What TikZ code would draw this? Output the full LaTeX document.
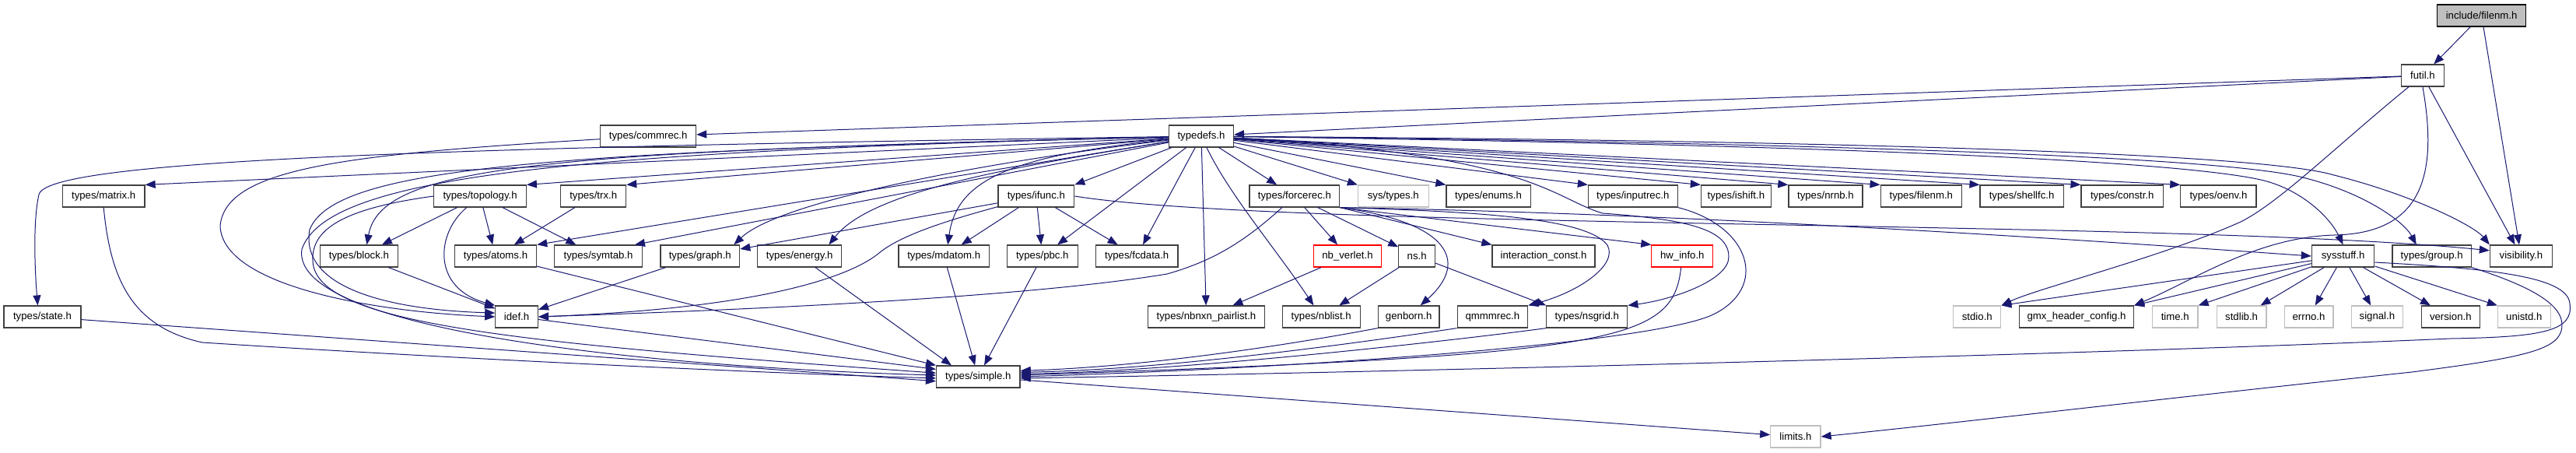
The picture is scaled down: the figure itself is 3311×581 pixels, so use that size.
\documentclass[tikz,border=0pt]{standalone}
\usepackage{fontspec}
\setmainfont{Liberation Sans}
\usetikzlibrary{arrows.meta}
\definecolor{edgec}{HTML}{191970}
\definecolor{boxc}{HTML}{404040}
\definecolor{greyc}{HTML}{BFBFBF}
\newcommand\nfont{\fontsize{13.2}{15}\selectfont}
\tikzset{
  nb/.style={draw=boxc, line width=1.2pt, minimum height=28pt, inner sep=0pt, font=\nfont, fill=white},
  gb/.style={nb, draw=greyc},
  rb/.style={nb, draw=red},
  rootb/.style={nb, draw=black, fill=greyc},
  e/.style={draw=edgec, line width=1pt, -{Triangle[length=13pt,width=10pt]}},
}
\begin{document}
\begin{tikzpicture}[x=1pt,y=-1pt]
\useasboundingbox (0,0) rectangle (3311,581);
% row 0-2
\node[rootb, minimum width=113.5pt] (root) at (3189.6,20) {include/filenm.h};
\node[nb, minimum width=55pt] (futil) at (3113.9,97) {futil.h};
\node[nb, minimum width=122.8pt] (commrec) at (833.2,175) {types/commrec.h};
\node[nb, minimum width=83pt] (td) at (1544,175) {typedefs.h};
% row 3
\node[nb, minimum width=105.7pt] (matrix) at (133.2,252) {types/matrix.h};
\node[nb, minimum width=118.5pt] (topo) at (617.1,252) {types/topology.h};
\node[nb, minimum width=83.9pt] (trx) at (762.7,252) {types/trx.h};
\node[nb, minimum width=97.8pt] (ifunc) at (1331.8,252) {types/ifunc.h};
\node[nb, minimum width=115.8pt] (frec) at (1663.9,252) {types/forcerec.h};
\node[gb, minimum width=90.7pt] (systypes) at (1790.8,252) {sys/types.h};
\node[nb, minimum width=108.2pt] (enums) at (1913,252) {types/enums.h};
\node[nb, minimum width=114.7pt] (inputrec) at (2098.8,252) {types/inputrec.h};
\node[nb, minimum width=90pt] (ishift) at (2231.4,252) {types/ishift.h};
\node[nb, minimum width=95pt] (nrnb) at (2346.4,252) {types/nrnb.h};
\node[nb, minimum width=104.3pt] (tfilenm) at (2469.3,252) {types/filenm.h};
\node[nb, minimum width=107.1pt] (shellfc) at (2598.6,252) {types/shellfc.h};
\node[nb, minimum width=105.4pt] (constr) at (2727.7,252) {types/constr.h};
\node[nb, minimum width=97.1pt] (oenv) at (2851.4,252) {types/oenv.h};
% row 4
\node[nb, minimum width=100pt] (block) at (461.4,329) {types/block.h};
\node[nb, minimum width=105.3pt] (atoms) at (637,329) {types/atoms.h};
\node[nb, minimum width=112.5pt] (symtab) at (769.1,329) {types/symtab.h};
\node[nb, minimum width=101.8pt] (graph) at (899.8,329) {types/graph.h};
\node[nb, minimum width=108.2pt] (energy) at (1027.7,329) {types/energy.h};
\node[nb, minimum width=116.4pt] (mdatom) at (1213.2,329) {types/mdatom.h};
\node[nb, minimum width=91.1pt] (pbc) at (1339.8,329) {types/pbc.h};
\node[nb, minimum width=105.4pt] (fcdata) at (1461.2,329) {types/fcdata.h};
\node[rb, minimum width=86.8pt] (nbv) at (1732,329) {nb\_verlet.h};
\node[nb, minimum width=46.8pt] (ns) at (1821.2,329) {ns.h};
\node[nb, minimum width=132.1pt] (ic) at (1984,329) {interaction\_const.h};
\node[rb, minimum width=78.9pt] (hw) at (2162.3,329) {hw\_info.h};
\node[nb, minimum width=80.4pt] (sysstuff) at (3011.6,329) {sysstuff.h};
\node[nb, minimum width=101.4pt] (group) at (3125.7,329) {types/group.h};
\node[nb, minimum width=80pt] (vis) at (3240.4,329) {visibility.h};
% row 5
\node[nb, minimum width=98.9pt] (state) at (54.5,407) {types/state.h};
\node[nb, minimum width=54.6pt] (idef) at (664.1,407) {idef.h};
\node[nb, minimum width=149.7pt] (nbnxn) at (1550.5,407) {types/nbnxn\_pairlist.h};
\node[nb, minimum width=100pt] (nblist) at (1698.2,407) {types/nblist.h};
\node[nb, minimum width=78.6pt] (genborn) at (1810.7,407) {genborn.h};
\node[nb, minimum width=90.4pt] (qmmm) at (1918.4,407) {qmmmrec.h};
\node[nb, minimum width=103.9pt] (nsgrid) at (2039.8,407) {types/nsgrid.h};
\node[gb, minimum width=61.1pt] (stdio) at (2541.3,407) {stdio.h};
\node[nb, minimum width=146.8pt] (gmxconf) at (2669.1,407) {gmx\_header\_config.h};
\node[gb, minimum width=58.6pt] (time) at (2795.7,407) {time.h};
\node[gb, minimum width=63.6pt] (stdlib) at (2881.1,407) {stdlib.h};
\node[gb, minimum width=62.8pt] (errno) at (2967.5,407) {errno.h};
\node[gb, minimum width=66.5pt] (signal) at (3055.4,407) {signal.h};
\node[nb, minimum width=74.6pt] (version) at (3149.8,407) {version.h};
\node[gb, minimum width=67.8pt] (unistd) at (3244.3,407) {unistd.h};
% rows 6-7
\node[nb, minimum width=107.5pt] (simple) at (1257.3,484) {types/simple.h};
\node[gb, minimum width=64.3pt] (limits) at (2307.9,561) {limits.h};

% ---- edges ----
\draw[e] (root) -- (futil);
\draw[e] (root) -- (vis);
\draw[e] (futil) -- (vis);
\draw[e] (futil) -- (td);
\draw[e] (futil) -- (commrec);
\draw[e] (futil) .. controls (3000,190) and (2930,260) .. (2880,285) .. controls (2780,330) and (2620,370) .. (stdio.north east);
\draw[e] (futil.south) .. controls (3135,230) and (3110,300) .. (3000,302) .. controls (2900,305) and (2820,360) .. (gmxconf.north east);

\draw[e] (commrec) .. controls (450,198) and (290,215) .. (283,290) .. controls (285,365) and (470,400) .. (idef.west);

% typedefs fan
\draw[e] (td) -- (matrix.north east);
\draw[e] (td) -- (topo.north east);
\draw[e] (td) -- (trx.north east);
\draw[e] (td) -- (atoms.north east);
\draw[e] (td) -- ([xshift=-10pt]symtab.north east);
\draw[e] (td) .. controls (1250,210) and (1000,260) .. ([xshift=-8pt]graph.north east);
\draw[e] (td) .. controls (1300,215) and (1120,245) .. ([xshift=-17pt]energy.north east);
\draw[e] (td) .. controls (1300,200) and (1230,230) .. ([xshift=5pt]mdatom.north);
\draw[e] (td) -- (ifunc.north east);
\draw[e] (td) -- (pbc);
\draw[e] (td) -- (fcdata);
\draw[e] (td) -- (nbnxn);
\draw[e] (td) .. controls (1580,250) and (1640,320) .. (nblist);
\draw[e] (td) -- (frec);
\draw[e] (td) -- (systypes.north west);
\draw[e] (td) -- (enums.north west);
\draw[e] (td) -- (inputrec.north west);
\draw[e] (td) -- (ishift.north west);
\draw[e] (td) -- (nrnb.north west);
\draw[e] (td) -- (tfilenm.north west);
\draw[e] (td) -- (shellfc.north west);
\draw[e] (td) -- (constr.north west);
\draw[e] (td) -- (oenv.north west);
\draw[e] (td) .. controls (500,190) and (60,208) .. (50,250) .. controls (42,285) and (45,350) .. ([xshift=-6pt]state.north);
\draw[e] (td) .. controls (700,195) and (490,212) .. ([xshift=10pt]block.north);
\draw[e] (td) .. controls (700,195) and (430,215) .. (398,295) .. controls (385,370) and (500,398) .. (idef.170);
\draw[e] (td) .. controls (700,195) and (420,230) .. (388,320) .. controls (372,420) and (800,470) .. (simple.178);
\draw[e] (td) .. controls (1970,198) and (1995,255) .. (2060,274) .. controls (2170,282) and (2222,295) .. (2222,330) .. controls (2222,360) and (2150,385) .. (nsgrid.north east);
\draw[e] (td) .. controls (2300,185) and (2800,205) .. (2910,232) .. controls (2960,245) and (2995,280) .. (sysstuff.north);
\draw[e] (td) .. controls (2300,183) and (2850,200) .. (2960,228) .. controls (3040,248) and (3090,285) .. ([xshift=-20pt]group.north);
\draw[e] (td) .. controls (2300,180) and (2900,195) .. (3000,225) .. controls (3100,250) and (3180,290) .. (vis.north west);

% topology
\draw[e] (topo) -- (block);
\draw[e] (topo) -- (atoms);
\draw[e] (topo) -- (symtab);
\draw[e] (topo) .. controls (560,300) and (555,370) .. (idef.north west);
\draw[e] (topo.west) .. controls (440,268) and (400,295) .. (402,335) .. controls (405,415) and (650,440) .. (simple.175);
% matrix, state
\draw[e] (matrix.south) .. controls (142,360) and (170,420) .. (260,440) .. controls (600,462) and (1000,480) .. (simple.182);
\draw[e] (state) -- (simple.186);
% trx, block, graph, energy, atoms, idef
\draw[e] (trx) -- (atoms);
\draw[e] (block) -- (idef);
\draw[e] (graph) -- (idef);
\draw[e] (energy) -- ([xshift=20pt]simple.north west);
\draw[e] (atoms) -- (simple.north west);
\draw[e] (idef) -- (simple.170);
% ifunc
\draw[e] (ifunc) -- (graph.10);
\draw[e] (ifunc) .. controls (1230,280) and (1160,300) .. (1130,325) .. controls (1100,350) and (1000,395) .. (idef.east);
\draw[e] (ifunc) -- (mdatom);
\draw[e] (ifunc) -- (pbc);
\draw[e] (ifunc) -- (fcdata);
\draw[e] (ifunc.east) .. controls (1650,295) and (2800,282) .. (vis.170);
\draw[e] (mdatom) -- (simple);
\draw[e] (pbc) -- (simple);
% forcerec
\draw[e] (frec) -- (nbv);
\draw[e] (frec) -- (ns);
\draw[e] (frec.south east) .. controls (1860,285) and (1890,335) .. ([xshift=15pt]genborn.north);
\draw[e] (frec.south east) -- (ic.north west);
\draw[e] (frec.south east) -- (hw.north west);
\draw[e] (frec.south east) .. controls (1900,272) and (2040,280) .. (2066,315) .. controls (2080,340) and (2030,375) .. (qmmm.north east);
\draw[e] (frec) .. controls (1600,310) and (1560,335) .. (1500,352) .. controls (1300,385) and (900,400) .. (idef.east);
\draw[e] (frec.south east) .. controls (2200,275) and (2700,310) .. (sysstuff.west);
% ns, nb_verlet
\draw[e] (ns) -- (nblist);
\draw[e] (ns) -- (nsgrid.north west);
\draw[e] (nbv) -- (nbnxn);
% into simple from the right
\draw[e] (inputrec.south east) .. controls (2250,290) and (2275,370) .. (2200,405) .. controls (2120,440) and (1700,472) .. (simple.east);
\draw[e] (hw) .. controls (2150,440) and (2080,455) .. (simple.2);
\draw[e] (genborn.south west) .. controls (1700,435) and (1500,470) .. (simple.8);
\draw[e] (qmmm.south west) .. controls (1750,440) and (1500,475) .. (simple.6);
\draw[e] (nsgrid.south west) .. controls (1850,440) and (1500,478) .. (simple.4);
% sysstuff
\draw[e] (sysstuff) -- (stdio.north east);
\draw[e] (sysstuff) -- (gmxconf.north east);
\draw[e] (sysstuff) -- (time.north east);
\draw[e] (sysstuff) -- (stdlib);
\draw[e] (sysstuff) -- (errno);
\draw[e] (sysstuff) -- (signal);
\draw[e] (sysstuff) -- (version);
\draw[e] (sysstuff) -- (unistd.north west);
\draw[e] ([yshift=-8pt]sysstuff.east) .. controls (3200,345) and (3300,355) .. (3303,390) .. controls (3308,425) and (3270,433) .. (3150,435) .. controls (2700,455) and (1800,478) .. (simple.358);
% group, simple -> limits
\draw[e] (group.south east) .. controls (3260,370) and (3300,395) .. (3292,425) .. controls (3285,450) and (3240,460) .. (3100,478) .. controls (2800,510) and (2500,545) .. (limits.east);
\draw[e] (simple) -- (limits);
\end{tikzpicture}
\end{document}
